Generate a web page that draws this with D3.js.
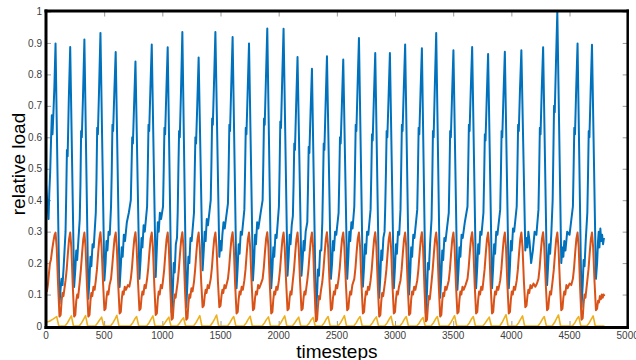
<!doctype html>
<html>
<head>
<meta charset="utf-8">
<title>relative load</title>
<script src="https://cdnjs.cloudflare.com/ajax/libs/d3/7.8.5/d3.min.js"></script>
<style>
  body { margin: 0; background: #fff; }
  text { font-family: "Liberation Sans", Arial, sans-serif; }
</style>
</head>
<body>
<div id="chart"></div>
<script>
// tick values and labels
const xTicks = [0, 500, 1000, 1500, 2000, 2500, 3000, 3500, 4000, 4500, 5000];
const xTickLabels = ['0', '500', '1000', '1500', '2000', '2500', '3000', '3500', '4000', '4500', '5000'];
const yTicks = [0, 0.1, 0.2, 0.3, 0.4, 0.5, 0.6, 0.7, 0.8, 0.9, 1];
const yTickLabels = ['0', '0.1', '0.2', '0.3', '0.4', '0.5', '0.6', '0.7', '0.8', '0.9', '1'];

// [timestep, relative load]
const blueLoad = [
  [0,.45],[10,.40],[22,.34],[28,.42],[36,.49],[44,.6],[50,.67],[56,.61],[64,.68],[72,.76],[82,.898],
  [116,.071],[126,.12],[134,.15],[142,.13],[152,.19],[168,.30],[174,.42],[180,.56],[186,.54],[196,.72],[208,.887],
  [242,.124],[252,.18],[260,.24],[268,.21],[278,.27],[290,.34],[296,.45],[302,.62],[308,.60],[318,.73],[330,.911],
  [364,.087],[374,.15],[382,.22],[390,.19],[400,.26],[410,.25],[428,.36],[434,.47],[440,.63],[446,.61],[456,.75],[468,.932],
  [502,.145],[512,.2],[520,.27],[528,.24],[538,.3],[548,.29],[559,.38],[565,.49],[571,.64],[577,.62],[587,.74],[599,.871],
  [633,.124],[643,.19],[651,.25],[659,.22],[669,.29],[679,.27],[695,.33],[712,.36],[729,.4],[735,.5],[741,.6],[747,.58],[757,.7],[769,.841],
  [803,.15],[813,.21],[821,.28],[829,.25],[839,.32],[849,.30],[869,.38],[875,.5],[881,.64],[887,.62],[897,.75],[909,.895],
  [943,.156],[953,.25],[961,.33],[969,.3],[979,.36],[989,.34],[1006,.38],[1012,.5],[1018,.63],[1024,.61],[1034,.74],[1046,.886],
  [1080,.044],[1090,.11],[1098,.2],[1106,.17],[1116,.26],[1126,.28],[1132,.36],[1138,.5],[1144,.62],[1150,.6],[1160,.74],[1172,.935],
  [1206,.06],[1216,.14],[1224,.22],[1232,.2],[1242,.28],[1252,.27],[1272,.36],[1278,.48],[1284,.6],[1290,.58],[1300,.7],[1312,.854],
  [1346,.177],[1356,.24],[1364,.3],[1372,.27],[1382,.34],[1392,.32],[1416,.4],[1422,.52],[1428,.66],[1434,.64],[1444,.77],[1456,.935],
  [1490,.22],[1500,.27],[1508,.24],[1516,.29],[1526,.33],[1536,.31],[1564,.39],[1570,.5],[1576,.64],[1582,.62],[1592,.76],[1604,.919],
  [1638,.12],[1648,.19],[1656,.26],[1664,.23],[1674,.3],[1684,.29],[1705,.37],[1711,.49],[1717,.63],[1723,.61],[1733,.74],[1745,.898],
  [1779,.145],[1789,.21],[1797,.29],[1805,.26],[1815,.33],[1825,.31],[1845,.36],[1862,.4],[1868,.52],[1874,.66],[1880,.64],[1890,.78],[1902,.946],
  [1936,.12],[1946,.18],[1954,.25],[1962,.22],[1972,.29],[1982,.28],[2002,.38],[2008,.5],[2014,.65],[2020,.63],[2030,.78],[2042,.945],
  [2076,.16],[2086,.22],[2094,.29],[2102,.26],[2112,.32],[2122,.35],[2128,.45],[2134,.58],[2140,.56],[2150,.7],[2162,.855],
  [2196,.16],[2206,.21],[2214,.27],[2222,.24],[2232,.3],[2246,.33],[2252,.44],[2258,.57],[2264,.55],[2274,.68],[2286,.818],
  [2320,.04],[2330,.1],[2338,.18],[2346,.16],[2356,.24],[2366,.24],[2375,.33],[2381,.45],[2387,.58],[2393,.56],[2403,.7],[2415,.858],
  [2449,.15],[2459,.2],[2467,.27],[2475,.24],[2485,.3],[2495,.29],[2515,.36],[2521,.47],[2527,.6],[2533,.58],[2543,.7],[2555,.847],
  [2589,.15],[2599,.22],[2607,.3],[2615,.27],[2625,.33],[2635,.31],[2650,.38],[2656,.5],[2662,.64],[2668,.62],[2678,.76],[2690,.916],
  [2724,.125],[2734,.19],[2742,.26],[2750,.23],[2760,.3],[2770,.29],[2790,.37],[2796,.48],[2802,.61],[2808,.59],[2818,.72],[2830,.868],
  [2864,.09],[2874,.16],[2882,.24],[2890,.21],[2900,.28],[2910,.3],[2916,.38],[2922,.49],[2928,.62],[2934,.6],[2944,.72],[2956,.868],
  [2990,.12],[3000,.19],[3008,.26],[3016,.23],[3026,.3],[3036,.29],[3047,.37],[3053,.5],[3059,.64],[3065,.62],[3075,.75],[3087,.895],
  [3121,.10],[3131,.17],[3139,.25],[3147,.22],[3157,.29],[3167,.28],[3191,.37],[3197,.49],[3203,.63],[3209,.61],[3219,.74],[3231,.883],
  [3265,.04],[3275,.11],[3283,.2],[3291,.18],[3301,.26],[3314,.34],[3320,.46],[3326,.62],[3332,.6],[3342,.76],[3354,.932],
  [3388,.09],[3398,.16],[3406,.24],[3414,.21],[3424,.28],[3434,.27],[3462,.36],[3468,.48],[3474,.62],[3480,.6],[3490,.73],[3502,.877],
  [3536,.115],[3546,.18],[3554,.25],[3562,.22],[3572,.29],[3582,.28],[3600,.33],[3623,.38],[3629,.5],[3635,.64],[3641,.62],[3651,.75],[3663,.887],
  [3697,.12],[3707,.19],[3715,.26],[3723,.23],[3733,.3],[3743,.29],[3760,.36],[3766,.47],[3772,.61],[3778,.59],[3788,.72],[3800,.865],
  [3834,.12],[3844,.19],[3852,.26],[3860,.23],[3870,.3],[3880,.29],[3904,.37],[3910,.48],[3916,.62],[3922,.6],[3932,.73],[3944,.872],
  [3978,.12],[3988,.19],[3996,.27],[4004,.24],[4014,.31],[4024,.3],[4046,.38],[4052,.5],[4058,.64],[4064,.62],[4074,.75],[4086,.877],
  [4120,.24],[4130,.28],[4138,.25],[4146,.3],[4156,.27],[4170,.2],[4185,.24],[4200,.3],[4215,.29],[4233,.37],[4239,.49],[4245,.63],[4251,.61],[4261,.75],[4273,.886],
  [4307,.13],[4317,.2],[4325,.26],[4333,.23],[4343,.29],[4355,.4],[4361,.55],[4367,.7],[4373,.68],[4383,.83],[4395,1.0],
  [4429,.2],[4439,.25],[4447,.22],[4455,.27],[4465,.24],[4480,.3],[4500,.29],[4529,.38],[4535,.5],[4541,.63],[4547,.61],[4557,.75],[4569,.898],
  [4603,.06],[4613,.13],[4621,.21],[4629,.19],[4639,.27],[4653,.36],[4659,.48],[4665,.62],[4671,.6],[4681,.74],[4693,.894],
  [4727,.15],[4737,.2],[4745,.27],[4751,.3],[4757,.25],[4765,.31],[4772,.27],[4780,.29],[4788,.26],[4796,.28]
];

const orangeLoad = [
  [0,.12],[8,.11],[16,.13],[26,.17],[34,.2],[42,.21],[52,.24],[64,.27],[74,.29],[82,.297],
  [92,.25],[104,.13],[116,.03],[126,.035],[134,.08],[142,.105],[150,.095],[168,.145],[178,.18],[188,.23],[198,.275],[208,.297],
  [218,.25],[230,.13],[242,.03],[252,.035],[260,.08],[268,.1],[276,.09],[290,.14],[300,.18],[310,.23],[320,.275],[330,.297],
  [340,.25],[352,.13],[364,.03],[374,.035],[382,.08],[390,.105],[398,.095],[408,.125],[418,.115],[428,.145],[438,.18],[448,.23],[458,.275],[468,.298],
  [478,.25],[490,.14],[502,.05],[512,.055],[520,.09],[528,.11],[536,.1],[546,.13],[559,.15],[569,.19],[579,.235],[589,.278],[599,.297],
  [609,.25],[621,.13],[633,.04],[643,.045],[651,.085],[659,.11],[667,.1],[677,.125],[687,.115],[704,.13],[716,.125],[729,.15],[739,.185],[749,.235],[759,.278],[769,.298],
  [779,.25],[791,.14],[803,.05],[813,.055],[821,.09],[829,.11],[837,.1],[847,.13],[857,.12],[869,.15],[879,.185],[889,.235],[899,.278],[909,.297],
  [919,.25],[931,.13],[943,.035],[953,.04],[961,.085],[969,.11],[977,.1],[987,.13],[997,.12],[1006,.145],[1016,.18],[1026,.23],[1036,.275],[1046,.297],
  [1056,.25],[1068,.12],[1080,.02],[1090,.025],[1098,.07],[1106,.1],[1114,.09],[1132,.14],[1142,.18],[1152,.23],[1162,.275],[1172,.298],
  [1182,.25],[1194,.12],[1206,.02],[1216,.025],[1224,.07],[1232,.1],[1240,.09],[1250,.12],[1260,.11],[1272,.14],[1282,.18],[1292,.23],[1302,.275],[1312,.297],
  [1322,.25],[1334,.14],[1346,.06],[1356,.065],[1364,.095],[1372,.115],[1380,.105],[1390,.13],[1400,.12],[1416,.15],[1426,.185],[1436,.235],[1446,.278],[1456,.297],
  [1466,.25],[1478,.14],[1490,.06],[1500,.065],[1508,.095],[1516,.115],[1524,.105],[1534,.13],[1544,.12],[1564,.15],[1574,.185],[1584,.235],[1594,.278],[1604,.298],
  [1614,.25],[1626,.13],[1638,.04],[1648,.045],[1656,.085],[1664,.11],[1672,.1],[1682,.125],[1692,.115],[1705,.145],[1715,.18],[1725,.23],[1735,.275],[1745,.297],
  [1755,.25],[1767,.14],[1779,.05],[1789,.055],[1797,.09],[1805,.11],[1813,.1],[1823,.13],[1833,.12],[1848,.135],[1862,.15],[1872,.185],[1882,.235],[1892,.278],[1902,.298],
  [1912,.25],[1924,.13],[1936,.04],[1946,.045],[1954,.085],[1962,.11],[1970,.1],[1980,.125],[1990,.115],[2002,.145],[2012,.18],[2022,.23],[2032,.275],[2042,.297],
  [2052,.25],[2064,.14],[2076,.05],[2086,.055],[2094,.09],[2102,.11],[2110,.1],[2122,.145],[2132,.18],[2142,.23],[2152,.275],[2162,.297],
  [2172,.25],[2184,.14],[2196,.05],[2206,.055],[2214,.09],[2222,.11],[2230,.1],[2246,.145],[2256,.18],[2266,.23],[2276,.275],[2286,.297],
  [2296,.25],[2308,.12],[2320,.015],[2330,.02],[2338,.065],[2346,.095],[2354,.085],[2364,.115],[2375,.14],[2385,.18],[2395,.23],[2405,.275],[2415,.298],
  [2425,.25],[2437,.14],[2449,.05],[2459,.055],[2467,.09],[2475,.11],[2483,.1],[2493,.13],[2503,.12],[2515,.15],[2525,.185],[2535,.235],[2545,.278],[2555,.297],
  [2565,.25],[2577,.14],[2589,.05],[2599,.055],[2607,.09],[2615,.11],[2623,.1],[2633,.13],[2650,.15],[2660,.185],[2670,.235],[2680,.278],[2690,.297],
  [2700,.25],[2712,.13],[2724,.04],[2734,.045],[2742,.085],[2750,.11],[2758,.1],[2768,.125],[2778,.115],[2790,.145],[2800,.18],[2810,.23],[2820,.275],[2830,.298],
  [2840,.25],[2852,.13],[2864,.03],[2874,.035],[2882,.08],[2890,.105],[2898,.095],[2916,.145],[2926,.18],[2936,.23],[2946,.275],[2956,.297],
  [2966,.25],[2978,.13],[2990,.04],[3000,.045],[3008,.085],[3016,.11],[3024,.1],[3034,.125],[3047,.145],[3057,.18],[3067,.23],[3077,.275],[3087,.297],
  [3097,.25],[3109,.13],[3121,.035],[3131,.04],[3139,.085],[3147,.11],[3155,.1],[3165,.125],[3175,.115],[3191,.145],[3201,.18],[3211,.23],[3221,.275],[3231,.298],
  [3241,.25],[3253,.12],[3265,.015],[3275,.02],[3283,.065],[3291,.095],[3299,.085],[3314,.14],[3324,.18],[3334,.23],[3344,.275],[3354,.297],
  [3364,.25],[3376,.13],[3388,.03],[3398,.035],[3406,.08],[3414,.105],[3422,.095],[3432,.125],[3442,.115],[3462,.145],[3472,.18],[3482,.23],[3492,.275],[3502,.297],
  [3512,.25],[3524,.13],[3536,.04],[3546,.045],[3554,.085],[3562,.11],[3570,.1],[3580,.125],[3590,.115],[3606,.13],[3623,.15],[3633,.185],[3643,.235],[3653,.278],[3663,.298],
  [3673,.25],[3685,.13],[3697,.04],[3707,.045],[3715,.085],[3723,.11],[3731,.1],[3741,.125],[3751,.115],[3760,.145],[3770,.18],[3780,.23],[3790,.275],[3800,.297],
  [3810,.25],[3822,.13],[3834,.04],[3844,.045],[3852,.085],[3860,.11],[3868,.1],[3878,.125],[3888,.115],[3904,.145],[3914,.18],[3924,.23],[3934,.275],[3944,.297],
  [3954,.25],[3966,.13],[3978,.04],[3988,.045],[3996,.085],[4004,.11],[4012,.1],[4022,.125],[4032,.115],[4046,.145],[4056,.18],[4066,.23],[4076,.275],[4086,.297],
  [4096,.25],[4108,.14],[4120,.06],[4130,.065],[4138,.095],[4146,.115],[4154,.105],[4164,.13],[4174,.12],[4190,.135],[4206,.125],[4220,.135],[4233,.15],[4243,.185],[4253,.235],[4263,.278],[4273,.298],
  [4283,.25],[4295,.14],[4307,.05],[4317,.055],[4325,.09],[4333,.11],[4341,.1],[4355,.145],[4365,.18],[4375,.23],[4385,.275],[4395,.297],
  [4405,.25],[4417,.14],[4429,.05],[4439,.055],[4447,.09],[4455,.11],[4463,.1],[4473,.13],[4483,.12],[4500,.135],[4515,.13],[4529,.15],[4539,.185],[4549,.235],[4559,.278],[4569,.297],
  [4579,.25],[4591,.12],[4603,.02],[4613,.025],[4621,.07],[4629,.1],[4637,.09],[4653,.145],[4663,.18],[4673,.23],[4683,.275],[4693,.297],
  [4703,.25],[4715,.14],[4727,.05],[4737,.055],[4745,.08],[4753,.075],[4761,.095],[4769,.085],[4777,.1],[4785,.09],[4793,.1],[4800,.095]
];

const yellowLoad = [
  [0,.012],[30,.015],[60,.022],[92,.03],[110,0],
  [164,0],[184,.01],[202,.022],[218,.032],[236,0],
  [286,0],[306,.01],[324,.022],[340,.033],[358,0],
  [424,0],[444,.01],[462,.02],[478,.028],[496,0],
  [555,0],[575,.01],[593,.022],[609,.034],[627,0],
  [725,0],[745,.01],[763,.022],[779,.03],[797,0],
  [865,0],[885,.01],[903,.022],[919,.032],[937,0],
  [1002,0],[1022,.01],[1040,.02],[1056,.028],[1074,0],
  [1128,0],[1148,.009],[1166,.019],[1182,.026],[1200,0],
  [1268,0],[1288,.01],[1306,.022],[1322,.033],[1340,0],
  [1412,0],[1432,.011],[1450,.023],[1466,.035],[1484,0],
  [1560,0],[1580,.01],[1598,.022],[1614,.03],[1632,0],
  [1701,0],[1721,.01],[1739,.022],[1755,.031],[1773,0],
  [1858,0],[1878,.01],[1896,.021],[1912,.029],[1930,0],
  [1998,0],[2018,.01],[2036,.022],[2052,.032],[2070,0],
  [2118,0],[2138,.01],[2156,.02],[2172,.028],[2190,0],
  [2242,0],[2262,.009],[2280,.02],[2296,.027],[2314,0],
  [2371,0],[2391,.01],[2409,.022],[2425,.03],[2443,0],
  [2511,0],[2531,.01],[2549,.022],[2565,.033],[2583,0],
  [2646,0],[2666,.01],[2684,.022],[2700,.03],[2718,0],
  [2786,0],[2806,.01],[2824,.021],[2840,.029],[2858,0],
  [2912,0],[2932,.01],[2950,.022],[2966,.031],[2984,0],
  [3043,0],[3063,.01],[3081,.022],[3097,.03],[3115,0],
  [3187,0],[3207,.009],[3225,.02],[3241,.027],[3259,0],
  [3310,0],[3330,.01],[3348,.022],[3364,.03],[3382,0],
  [3458,0],[3478,.01],[3496,.022],[3512,.033],[3530,0],
  [3619,0],[3639,.01],[3657,.022],[3673,.03],[3691,0],
  [3756,0],[3776,.01],[3794,.02],[3810,.028],[3828,0],
  [3900,0],[3920,.011],[3938,.024],[3954,.036],[3972,0],
  [4042,0],[4062,.01],[4080,.022],[4096,.032],[4114,0],
  [4229,0],[4249,.01],[4267,.022],[4283,.03],[4301,0],
  [4351,0],[4371,.011],[4389,.024],[4405,.035],[4423,0],
  [4525,0],[4545,.01],[4563,.022],[4579,.03],[4597,0],
  [4649,0],[4669,.01],[4687,.022],[4703,.032],[4721,0],[4800,0]
];

const W = 636, H = 360;
const plotLeft = 46, plotRight = 627.7, plotTop = 11.5, plotBottom = 326;

const svg = d3.select('#chart')
  .append('svg')
  .attr('width', W)
  .attr('height', H);

const x = d3.scaleLinear().domain([0, 5000]).range([plotLeft, plotRight]);
const y = d3.scaleLinear().domain([0, 1]).range([plotBottom, plotTop]);

// inner ticks on all four sides (gray, pointing inward)
const tickLen = 5, tickColor = '#9a9a9a';
const bottomAxis = svg.append('g').attr('transform', `translate(0,${plotBottom})`)
  .call(d3.axisBottom(x).tickValues(xTicks).tickSize(-tickLen).tickFormat(''));
const topAxis = svg.append('g').attr('transform', `translate(0,${plotTop})`)
  .call(d3.axisTop(x).tickValues(xTicks).tickSize(-tickLen).tickFormat(''));
const leftAxis = svg.append('g').attr('transform', `translate(${plotLeft},0)`)
  .call(d3.axisLeft(y).tickValues(yTicks).tickSize(-tickLen).tickFormat(''));
const rightAxis = svg.append('g').attr('transform', `translate(${plotRight},0)`)
  .call(d3.axisRight(y).tickValues(yTicks).tickSize(-tickLen).tickFormat(''));
[bottomAxis, topAxis, leftAxis, rightAxis].forEach(g => {
  g.select('.domain').remove();
  g.selectAll('.tick line').attr('stroke', tickColor).attr('stroke-width', 1);
});

// the three series
const line = d3.line().x(d => x(d[0])).y(d => y(d[1]));
const series = [
  { data: blueLoad, color: '#0072BD', width: 2 },
  { data: orangeLoad, color: '#D95319', width: 2 },
  { data: yellowLoad, color: '#EDB120', width: 1.6 }
];
svg.selectAll('path.series')
  .data(series)
  .join('path')
  .attr('class', 'series')
  .attr('d', d => line(d.data))
  .attr('fill', 'none')
  .attr('stroke', d => d.color)
  .attr('stroke-width', d => d.width)
  .attr('stroke-linejoin', 'round');

// thick black box
const frame = svg.append('g').attr('stroke', '#000').attr('fill', 'none');
frame.append('line').attr('x1', plotLeft - 1.5).attr('x2', plotRight + 1.2).attr('y1', plotTop - 0.5).attr('y2', plotTop - 0.5).attr('stroke-width', 3);
frame.append('line').attr('x1', plotLeft - 1.5).attr('x2', plotRight + 1.2).attr('y1', plotBottom + 1.5).attr('y2', plotBottom + 1.5).attr('stroke-width', 3);
frame.append('line').attr('x1', plotLeft).attr('x2', plotLeft).attr('y1', plotTop - 2).attr('y2', plotBottom + 3).attr('stroke-width', 3);
frame.append('line').attr('x1', plotRight).attr('x2', plotRight).attr('y1', plotTop - 2).attr('y2', plotBottom + 3).attr('stroke-width', 2.5);

// tick labels
svg.append('g').selectAll('text')
  .data(xTicks)
  .join('text')
  .attr('x', d => x(d))
  .attr('y', 338.5)
  .attr('text-anchor', 'middle')
  .style('font-size', '10px')
  .style('fill', '#404040')
  .text((d, i) => xTickLabels[i]);

svg.append('g').selectAll('text')
  .data(yTicks)
  .join('text')
  .attr('x', 42)
  .attr('y', d => y(d) + 3.6)
  .attr('text-anchor', 'end')
  .style('font-size', '10px')
  .style('fill', '#404040')
  .text((d, i) => yTickLabels[i]);

// axis titles
svg.append('text')
  .attr('transform', 'translate(25,164) rotate(-90)')
  .attr('text-anchor', 'middle')
  .style('font-size', '19px')
  .style('fill', '#000')
  .text('relative load');

svg.append('text')
  .attr('x', (plotLeft + plotRight) / 2)
  .attr('y', 358)
  .attr('text-anchor', 'middle')
  .style('font-size', '19px')
  .style('fill', '#000')
  .text('timesteps');
</script>
</body>
</html>
